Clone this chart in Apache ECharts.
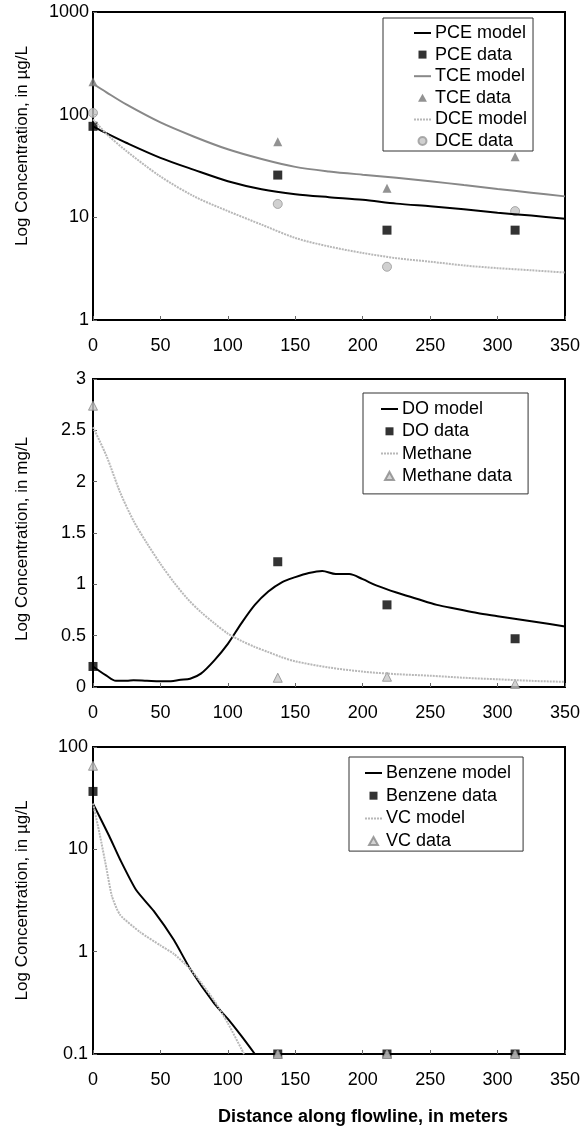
<!DOCTYPE html>
<html>
<head>
<meta charset="utf-8">
<script src="https://cdn.jsdelivr.net/npm/echarts@6/dist/echarts.min.js"></script>
<style>
  html, body { margin: 0; padding: 0; background: #fff; }
  #chart { width: 587px; height: 1129px; }
</style>
</head>
<body>
<div id="chart"></div>
<script>
// sampling distances, meters
const dataDist = [0, 137, 218, 313];

// top panel: chlorinated ethenes, ug/L
const pceData = [77, 25.8, 7.5, 7.5];
const tceData = [209, 54.5, 19.2, 39];
const dceData = [104, 13.5, 3.3, 11.5];
const pceModel = [[0,77],[10,66],[25,53],[50,38],[75,29],[100,22.5],[125,18.8],[150,16.8],[175,15.7],[200,14.8],[225,13.6],[250,12.8],[275,12],[300,11.1],[325,10.4],[350,9.7]];
const tceModel = [[0,200],[10,165],[25,125],[50,84],[75,61],[100,46],[125,37],[150,31],[175,28],[200,26],[225,24.3],[250,22.5],[275,20.6],[300,18.9],[325,17.4],[350,16]];
const dceModel = [[0,90],[10,65],[25,44],[50,25],[75,16],[100,11.5],[125,8.5],[150,6.3],[175,5.2],[200,4.5],[225,4],[250,3.7],[275,3.4],[300,3.2],[325,3.05],[350,2.9]];

// middle panel: mg/L
const doData = [0.2, 1.22, 0.8, 0.47];
const methaneData = [2.74, 0.09, 0.1, 0.03];
const doModel = [[0,0.2],[10,0.11],[17,0.06],[25,0.06],[30,0.065],[40,0.06],[55,0.055],[65,0.07],[72,0.08],[80,0.13],[90,0.26],[100,0.42],[110,0.62],[120,0.8],[130,0.93],[140,1.02],[150,1.07],[160,1.11],[170,1.13],[180,1.1],[190,1.1],[200,1.05],[210,0.99],[225,0.92],[240,0.86],[255,0.8],[270,0.76],[285,0.72],[300,0.69],[315,0.66],[330,0.63],[350,0.59]];
const methaneModel = [[0,2.53],[10,2.25],[20,1.9],[30,1.62],[40,1.4],[50,1.2],[60,1.02],[70,0.86],[80,0.73],[90,0.62],[100,0.52],[110,0.45],[120,0.39],[130,0.34],[140,0.29],[150,0.25],[175,0.19],[200,0.15],[225,0.125],[250,0.11],[275,0.09],[300,0.075],[325,0.06],[350,0.05]];

// bottom panel: ug/L
const benzeneData = [36.8, 0.1, 0.1, 0.1];
const vcData = [65.6, 0.1, 0.1, 0.1];
const benzeneModel = [[0,28],[12,13.5],[20,8],[32,4],[45,2.5],[60,1.3],[72,0.68],[90,0.31],[100,0.22],[110,0.15],[120,0.1]];
const vcModel = [[0,28],[5,14],[10,6.5],[14,3.5],[20,2.3],[35,1.55],[50,1.15],[60,0.95],[72,0.68],[80,0.5],[90,0.33],[100,0.2],[112,0.1]];

const font = 'Liberation Sans, Arial, sans-serif';
const pairs = arr => dataDist.map((d, i) => [d, arr[i]]);

const SQUARE = 'path://M0,0h1v1h-1z';
const TRI = 'path://M0.5,0L1,0.9L0,0.9z';

const chart = echarts.init(document.getElementById('chart'));

function xAx(idx, withName) {
  const ax = {
    type: 'value', gridIndex: idx, min: 0, max: 350, interval: 50,
    axisLine: { show: true, lineStyle: { color: '#000', width: 2 } },
    axisTick: { inside: true, length: 4, lineStyle: { color: '#666' } },
    axisLabel: { margin: 17, fontSize: 18, color: '#000', fontFamily: font },
    splitLine: { show: false }
  };
  if (withName) {
    ax.name = 'Distance along flowline, in meters';
    ax.nameLocation = 'middle';
    ax.nameGap = 54;
    ax.nameTextStyle = { fontSize: 18, fontWeight: 'bold', color: '#000', fontFamily: font, padding: [0, 0, 0, 68] };
  }
  return ax;
}

function yAx(idx, opts) {
  return Object.assign({
    gridIndex: idx,
    nameLocation: 'middle',
    nameRotate: 90,
    nameGap: 62,
    axisLine: { show: true, lineStyle: { color: '#000', width: 2 } },
    axisTick: { inside: true, length: 4, lineStyle: { color: '#666' } },
    axisLabel: { margin: 5, fontSize: 18, color: '#000', fontFamily: font },
    splitLine: { show: false }
  }, opts);
}

const logFmt = v => String(+(+v).toFixed(3));

// legend entries: model lines show only a line, data show a marker
const lineItem = name => ({ name: name, itemStyle: { opacity: 0 } });
const markItem = (name, icon) => ({ name: name, icon: icon });

function legendBox(top, left, items, padding, gap) {
  return {
    orient: 'vertical', top: top, left: left, data: items,
    itemWidth: 17, itemHeight: 8, itemGap: gap, symbolKeepAspect: true,
    borderColor: '#333', borderWidth: 1, padding: padding,
    textStyle: { fontSize: 18, color: '#000', fontFamily: font, padding: [0, 0, 0, -1] }
  };
}

const darkLine = { color: '#000', width: 2 };
const midLine = { color: '#888', width: 2 };
const lightLine = { color: '#b8b8b8', width: 2, type: [2, 1] };

chart.setOption({
  animation: false,
  grid: [
    { left: 93, top: 12, width: 472, height: 308, show: true, borderColor: '#000', borderWidth: 2 },
    { left: 93, top: 379, width: 472, height: 308, show: true, borderColor: '#000', borderWidth: 2 },
    { left: 93, top: 747, width: 472, height: 307, show: true, borderColor: '#000', borderWidth: 2 }
  ],
  xAxis: [xAx(0, false), xAx(1, false), xAx(2, true)],
  yAxis: [
    yAx(0, { type: 'log', logBase: 10, min: 1, max: 1000,
      name: 'Log Concentration, in µg/L',
      nameTextStyle: { fontSize: 17, color: '#000', fontFamily: font, padding: [0, 0, 0, 40] },
      axisLabel: { margin: 4, fontSize: 18, color: '#000', fontFamily: font, formatter: logFmt } }),
    yAx(1, { type: 'value', min: 0, max: 3, interval: 0.5,
      name: 'Log Concentration, in mg/L',
      nameTextStyle: { fontSize: 17, color: '#000', fontFamily: font, padding: [0, 12, 0, 0] },
      axisLabel: { margin: 7, fontSize: 18, color: '#000', fontFamily: font } }),
    yAx(2, { type: 'log', logBase: 10, min: 0.1, max: 100,
      name: 'Log Concentration, in µg/L',
      nameTextStyle: { fontSize: 17, color: '#000', fontFamily: font },
      axisLabel: { margin: 5, fontSize: 18, color: '#000', fontFamily: font, formatter: logFmt } })
  ],
  legend: [
    legendBox(18, 383, [lineItem('PCE model'), markItem('PCE data', SQUARE), lineItem('TCE model'),
      markItem('TCE data', TRI), lineItem('DCE model'), markItem('DCE data', 'circle')], [6, 6, 1, 30], 3.6),
    legendBox(393, 363, [lineItem('DO model'), markItem('DO data', SQUARE), lineItem('Methane'),
      markItem('Methane data', TRI)], [7, 16, 9, 17], 4.3),
    legendBox(757, 349, [lineItem('Benzene model'), markItem('Benzene data', SQUARE), lineItem('VC model'),
      markItem('VC data', TRI)], [7, 12, 1, 15], 4.7)
  ],
  series: [
    { name: 'PCE model', type: 'line', xAxisIndex: 0, yAxisIndex: 0, data: pceModel, symbol: 'none', smooth: 0.3, lineStyle: darkLine, itemStyle: { color: '#000' } },
    { name: 'PCE data', type: 'scatter', xAxisIndex: 0, yAxisIndex: 0, data: pairs(pceData), symbol: 'rect', symbolSize: 9, clip: false, itemStyle: { color: '#000' } },
    { name: 'TCE model', type: 'line', xAxisIndex: 0, yAxisIndex: 0, data: tceModel, symbol: 'none', smooth: 0.3, lineStyle: midLine, itemStyle: { color: '#888' } },
    { name: 'TCE data', type: 'scatter', xAxisIndex: 0, yAxisIndex: 0, data: pairs(tceData), symbol: 'triangle', symbolSize: 9, clip: false, itemStyle: { color: '#777' } },
    { name: 'DCE model', type: 'line', xAxisIndex: 0, yAxisIndex: 0, data: dceModel, symbol: 'none', smooth: 0.3, lineStyle: lightLine, itemStyle: { color: '#b8b8b8' } },
    { name: 'DCE data', type: 'scatter', xAxisIndex: 0, yAxisIndex: 0, data: pairs(dceData), symbol: 'circle', symbolSize: 9, clip: false, itemStyle: { color: '#c4c4c4', borderColor: '#999', borderWidth: 1 } },

    { name: 'DO model', type: 'line', xAxisIndex: 1, yAxisIndex: 1, data: doModel, symbol: 'none', smooth: 0.3, lineStyle: darkLine, itemStyle: { color: '#000' } },
    { name: 'DO data', type: 'scatter', xAxisIndex: 1, yAxisIndex: 1, data: pairs(doData), symbol: 'rect', symbolSize: 9, clip: false, itemStyle: { color: '#000' } },
    { name: 'Methane', type: 'line', xAxisIndex: 1, yAxisIndex: 1, data: methaneModel, symbol: 'none', smooth: 0.3, lineStyle: lightLine, itemStyle: { color: '#b8b8b8' } },
    { name: 'Methane data', type: 'scatter', xAxisIndex: 1, yAxisIndex: 1, data: pairs(methaneData), symbol: 'triangle', symbolSize: 9, clip: false, itemStyle: { color: '#c8c8c8', borderColor: '#888', borderWidth: 1 } },

    { name: 'Benzene model', type: 'line', xAxisIndex: 2, yAxisIndex: 2, data: benzeneModel, symbol: 'none', smooth: 0.2, lineStyle: darkLine, itemStyle: { color: '#000' } },
    { name: 'Benzene data', type: 'scatter', xAxisIndex: 2, yAxisIndex: 2, data: pairs(benzeneData), symbol: 'rect', symbolSize: 9, clip: false, itemStyle: { color: '#000' } },
    { name: 'VC model', type: 'line', xAxisIndex: 2, yAxisIndex: 2, data: vcModel, symbol: 'none', smooth: 0.2, lineStyle: lightLine, itemStyle: { color: '#b8b8b8' } },
    { name: 'VC data', type: 'scatter', xAxisIndex: 2, yAxisIndex: 2, data: pairs(vcData), symbol: 'triangle', symbolSize: 9, clip: false, itemStyle: { color: '#c8c8c8', borderColor: '#888', borderWidth: 1 } }
  ]
});
</script>
</body>
</html>
